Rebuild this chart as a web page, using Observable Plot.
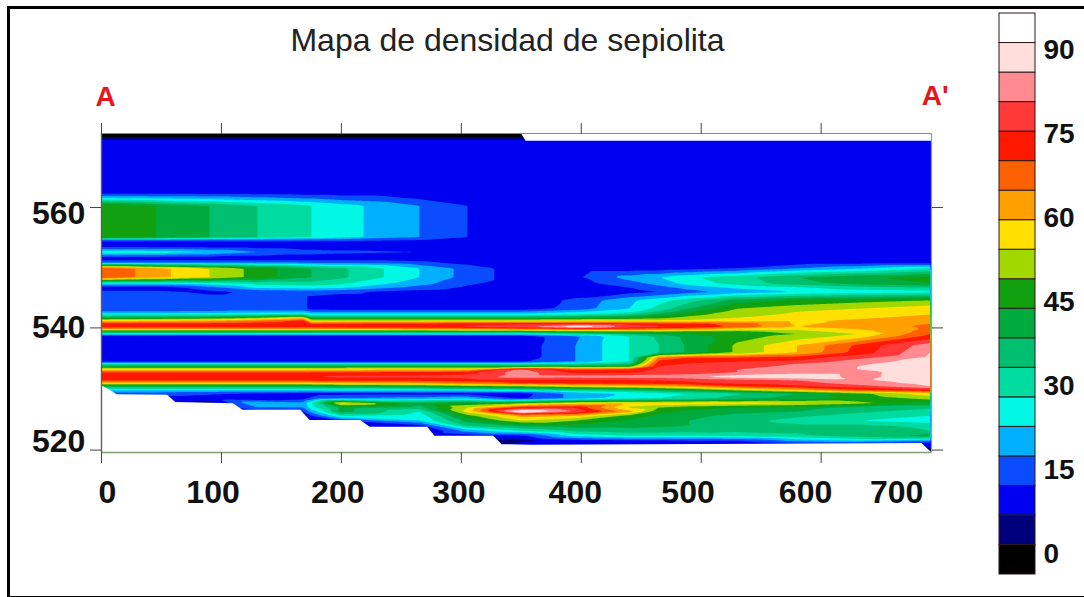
<!DOCTYPE html>
<html><head><meta charset="utf-8">
<script src="https://cdn.jsdelivr.net/npm/d3@7"></script>
<script src="https://cdn.jsdelivr.net/npm/@observablehq/plot@0.6"></script>
<style>
html,body{margin:0;padding:0;background:#fff;overflow:hidden}
#stage{position:relative;width:1084px;height:597px;background:#fff}
#stage svg{position:absolute;left:0;top:0;background:transparent}
#edge{position:absolute;left:7px;top:6px;width:1090px;height:587px;border:3px solid #000;box-sizing:content-box}
</style></head><body><div id="stage"><div id="edge"></div></div>
<script>
const chartTitle = "Mapa de densidad de sepiolita";
const distances = [0,45,90,130,168,175,200,265,305,350,395,440,465,490,530,580,630,691];
const depths = [572.3,571.7,571,562.5,561.5,560.3,555.1,554.6,554.1,553.6,552.6,551.6,550.9,549.9,548.4,547.4,546.7,546,544.6,543.2,542.7,542.2,541.7,541.2,540.7,540.2,539.8,539.4,539,538.6,537.1,535.9,535.1,534.4,534.1,533.6,533.1,532.6,531.9,531.3,530.8,530.3,529.6,529.1,528.3,527.5,526.8,526.1,525.4,524.6,523.8,522.9,522.1,521.3,520.8,519.3];
const densityRows = [
[3,3,3,3,3,3,3,3,3,3,3,3,3,3,3,3,3,3],
[5,5,5,5,5,5,5,5,5,5,5,5,5,5,5,5,5,5],
[12,12,12,12,12,12,12,12,12,12,12,12,12,12,12,12,12,12],
[12,12,12,12,12,12,12,12,12,12,12,12,12,12,12,12,12,12],
[26,25,24,22,20,20,18,14.5,12.5,12,12,12,12,12,12,12,12,12],
[50,45,40,35,31,30,27,20,15,12,12,12,12,12,12,12,12,12],
[50,45,40,35,31,30,27,20,15,12,12,12,12,12,12,12,12,12],
[18,18,18,18,17,17,17,15,13,12,12,12,12,12,12,12,12,12],
[12,12,12,12,12,12,12,12,12,12,12,12,12,12,12,12,12,12],
[12,12,12,12,12,12,12,12,12,12,12,12,12,12,12,12,12,12],
[29,28,25,20,17,17,16,15,12,12,12,12,12,12,12,12,12,12],
[12,12,12,12,12,12,12,12,12,12,12,12,12,12,12,12,12,12],
[18,18,18,18,18,18,18,16,13,12,12,12,12,12,12,12,12,12],
[70,62,55,48,41,40,36,25,18,12,12,12,12,13,15,20,24,30],
[70,62,55,48,41,40,36,25,18,12,14,22,25,29,33,40,44,47],
[26,26,28,32,33,33,31,22,16,12,13,18,22,27,32,38,42,45],
[12,12,18,26,27,27,26,18,14,12,12,15,18,22,26,29,33,35],
[16,16,14,16,17,17,16,13,12,12,12,13,15,18,22,25,27,28],
[17,17,17,17,17,13,12,12,12,12,16,24,28,33,42,46,48,50],
[17,17,17,17,17,13,12,12,12,12,17,25,32,40,50,53,55,58],
[20,20,21,22,22,20,20,20,20,20,24,28,36,44,52,55,57,59],
[30,30,30,31,33,28,28,28,28,28,30,36,42,48,53,56,58,60],
[42,43,45,50,58,42,42,42,42,42,44,46,48,52,55,57,59,62],
[58,60,62,66,72,55,55,55,55,55,56,56,56,56,57,59,61,64],
[72,72,72,73,74,70,71,72,73,74,74,73,72,72,68,59,62,65],
[73,73,73,73,73,72,73,74,76,80,90,78,76,75,69,60,63,66],
[62,62,62,62,62,62,62,63,64,66,68,68,66,64,57,57,60,66],
[42,42,42,42,42,42,42,42,43,44,48,50,50,48,48,52,58,68],
[27,27,27,27,27,27,27,27,27,27,33,38,42,45,47,50,55,70],
[12,12,12,12,12,12,12,12,12,12,19,30,36,42,48,52,57,72],
[12,12,12,12,12,12,12,12,12,12,20,30,35,41,51,60,71,83],
[12,12,12,12,12,12,12,12,12,12,20,30,35,41,51,60,72,85],
[12,12,12,12,12,12,12,12,12,12,20,30,65,70,70,72,78,86],
[14,14,14,14,14,14,14,14,14,14,20,30,72,74,75,76,83,87],
[28,28,28,28,28,28,28,28,28,28,30,35,74,75,76,80,84,88],
[44,44,44,44,44,44,44,44,44,44,45,47,75,76,77,82,85,89],
[58,58,58,58,58,59,59,60,60,81,70,72,76,78,80,83,85,89],
[71,71,71,71,71,71,71,72,73,83,74,74,76,77,80,83,83,89],
[74,74,74,75,75,75,76,76,77,83,82,83,83,84,88,90,83,89],
[72,72,72,72,72,72,72,72,73,74,74,74,75,76,78,80,84,88],
[58,58,58,58,58,58,60,62,66,70,72,73,73,74,76,78,82,87],
[40,40,40,40,40,40,42,44,48,50,55,58,60,63,70,74,78,85],
[24,24,24,24,24,24,25,25,25,28,32,35,38,42,50,58,68,73],
[18,18,16,14,13,13,13,13,13,13,22,26,28,30,34,40,48,58],
[14,13,12,10,13,16,20,22,24,14,22,28,30,32,38,42,46,52],
[12,12,8,25,22,30,58,42,46,50,57,59,59,59,58,56,52,44],
[12,12,10,20,20,28,42,38,55,72,74,54,50,47,45,43,38,36],
[12,12,10,12,15,22,42,30,57,92,80,62,46,44,42,40,36,33],
[10,10,10,10,10,15,30,27,48,62,60,48,44,42,38,36,33,30],
[10,10,10,10,10,10,15,25,42,55,50,44,42,40,37,33,30,27],
[8,8,8,8,8,8,8,14,36,42,44,42,41,40,38,36,36,33],
[8,8,8,8,8,8,8,8,22,30,36,38,38,37,36,36,40,35],
[8,8,8,8,8,8,8,8,12,14,27,30,30,30,32,34,38,42],
[8,8,8,8,8,8,8,8,8,8,13,14,14,15,15,22,26,22],
[8,8,8,8,8,8,8,8,8,11,11,11,11,11,11,14,14,12],
[8,8,8,8,8,8,8,8,8,8,8,8,8,8,8,8,8,8]
];
const surfaceX = [0,7.5,13,55,62,110,118,166,174,216,224,272,278,327,334,358,684,692];
const surfaceDepth = [530.4,529.6,528.9,528.8,527.6,527.4,526.3,526.3,524.6,524.6,523.5,523.5,522,522,520.6,520.5,520.8,519.3];
const topGapX = [350,354,692];
const topGapDepth = [572.3,571,571];
const thresholds = [0,5,10,15,20,25,30,35,40,45,50,55,60,65,70,75,80,85,90];
const palette = ["#000000","#00007d","#0000f0","#0a4cff","#00b0ff","#00f8e4","#00dca0","#00c070","#00aa3c","#10a010","#a0d800","#ffe000","#ffa000","#ff6000","#ff1800","#ff3838","#ff8a90","#ffdedc","#ffffff"];
const xTicks = [0,100,200,300,400,500,600];
const yTicks = [560,540,519.7];
const xLabels = ["0","100","200","300","400","500","600","700"];
const xLabelAt = [5,93,197,298,395,489,587,663];
const yLabels = ["560","540","520"];
const yLabelAt = [559,540,521.1];
const legendLabels = [0,15,30,45,60,75,90];

const grid = depths.flatMap((d,i)=>distances.map((x,j)=>({x,d,v:densityRows[i][j]})));
const surface = surfaceX.map((x,i)=>({x,d:surfaceDepth[i]}));
const topGap = topGapX.map((x,i)=>({x,d:topGapDepth[i]}));
const bottomDepth = 519.3, topDepth = 572.3;
const fontStack = "'Liberation Sans', Arial, sans-serif";
const colorScale = {type:"threshold",domain:thresholds.slice(1),range:palette};

const mapPlot = Plot.plot({
  width:1084,height:597,marginLeft:101,marginRight:153,marginTop:133,marginBottom:145,
  style:{background:"transparent",fontFamily:fontStack,overflow:"visible"},
  x:{domain:[0,692],axis:null},
  y:{domain:[bottomDepth,topDepth],axis:null},
  color:colorScale,
  marks:[
    Plot.contour(grid,{x:"x",y:"d",fill:"v",interpolate:"barycentric",thresholds,pixelSize:1,blur:0,stroke:"none"}),
    Plot.areaY(surface,{x:"x",y1:()=>bottomDepth,y2:"d",fill:"white"}),
    Plot.areaY(topGap,{x:"x",y1:()=>topDepth,y2:"d",fill:"white"}),
    Plot.ruleY([topDepth],{stroke:"#6aa06a",strokeWidth:1.2}),
    Plot.ruleY([bottomDepth],{stroke:"#7f9f70",strokeWidth:1.6}),
    Plot.ruleX([0],{stroke:"#6a5a58",strokeWidth:1.4}),
    Plot.ruleX([692],{stroke:"#58b8a8",strokeWidth:1.2}),
    Plot.axisX({anchor:"top",ticks:xTicks,tickSize:11,tickFormat:()=>"",label:null,stroke:"#444"}),
    Plot.axisX({anchor:"bottom",ticks:xTicks,tickSize:11,tickFormat:()=>"",label:null,stroke:"#444"}),
    Plot.axisY({anchor:"left",ticks:yTicks,tickSize:11,tickFormat:()=>"",label:null,stroke:"#444"}),
    Plot.axisY({anchor:"right",ticks:yTicks,tickSize:11,tickFormat:()=>"",label:null,stroke:"#444"}),
    Plot.text(xLabels,{x:(_,i)=>xLabelAt[i],y:()=>512.6,text:d=>d,fontSize:32,fontWeight:"bold",fill:"#111"}),
    Plot.text(yLabels,{x:()=>-13.5,y:(_,i)=>yLabelAt[i],text:d=>d,textAnchor:"end",fontSize:32,fontWeight:"bold",fill:"#111"}),
    Plot.text([chartTitle],{x:()=>338.5,y:()=>587.7,text:d=>d,fontSize:32,fill:"#222"}),
    Plot.text(["A"],{x:()=>3.5,y:()=>578.4,text:d=>d,fontSize:28,fontWeight:"bold",fill:"#e8141c"}),
    Plot.text(["A'"],{x:()=>695,y:()=>578.6,text:d=>d,fontSize:28,fontWeight:"bold",fill:"#e8141c"})
  ]
});

const legendBar = Plot.plot({
  width:1084,height:597,marginLeft:999,marginRight:49,marginTop:13,marginBottom:23,
  style:{background:"transparent",fontFamily:fontStack,overflow:"visible"},
  x:{domain:[0,1],axis:null},
  y:{domain:[0,95],axis:null},
  color:colorScale,
  marks:[
    Plot.rect(thresholds,{x1:()=>0,x2:()=>1,y1:d=>d,y2:d=>d+5,fill:d=>d,stroke:"#2a1a1a",strokeWidth:1})
  ]
});

const legendText = Plot.plot({
  width:1084,height:597,marginLeft:1043,marginRight:10,marginTop:50,marginBottom:43,
  style:{background:"transparent",fontFamily:fontStack,overflow:"visible"},
  x:{domain:[0,1],axis:null},
  y:{domain:[0,90],axis:null},
  marks:[
    Plot.text(legendLabels,{x:()=>0,y:d=>d,text:d=>String(d),textAnchor:"start",fontSize:28,fontWeight:"bold",fill:"#111"})
  ]
});

document.getElementById("stage").append(mapPlot,legendBar,legendText);
</script></body></html>
